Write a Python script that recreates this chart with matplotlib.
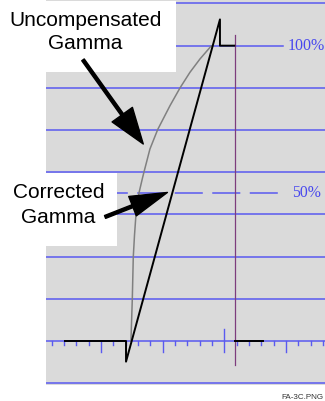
import numpy as np
import matplotlib.pyplot as plt
from matplotlib.patches import Rectangle

plt.rcParams['lines.scale_dashes'] = False

# x: graticule divisions (0 = centre mark), y: percent of white level
grid_levels = [-14.3, 0.0, 14.3, 28.6, 42.9, 57.1, 71.4, 85.7, 114.3]
full_level = 100.0
half_level = 50.0

div_ticks = [-14, -13, -12, -11, -10, -9, -8, -7, -6, -5, -4, -3, -2, -1,
             0, 1, 2, 3, 4, 5, 6, 7, 8]
long_ticks = [-10, -5, 5]
centre_tick = 0

# corrected gamma (black trace)
corrected_x = [-12.92, -7.97, -7.97, -0.35, -0.35, 0.81]
corrected_y = [0.0, 0.0, -7.0, 108.9, 100.0, 100.0]
after_x = [0.83, 3.11]
after_y = [0.0, 0.0]
edge_x = 0.83
edge_y = [103.6, -8.1]

# uncompensated gamma (grey trace)
uncomp_x = [-7.57, -7.46, -7.38, -7.28, -7.16, -6.92, -6.65, -6.52, -6.03,
            -5.40, -4.40, -3.59, -2.78, -1.97, -1.08, -0.92]
uncomp_y = [0.0, 14.2, 28.5, 35.9, 43.0, 50.1, 54.9, 57.1, 65.0,
            71.6, 79.7, 85.7, 91.0, 95.5, 99.8, 100.0]

BLUE = '#5a5af0'
GREY_BG = '#dadada'

fig = plt.figure(figsize=(3.25, 4.02), dpi=100)
ax = fig.add_axes([46 / 325, 16 / 402, 1 - 46 / 325, 1 - 16 / 402])
ax.set_facecolor(GREY_BG)
ax.set_xlim(-14.46, 8.17)
ax.set_ylim(-14.9, 115.8)
ax.set_xticks([])
ax.set_yticks([])
for s in ax.spines.values():
    s.set_visible(False)

# graticule
for lv in grid_levels:
    ax.axhline(lv, color=BLUE, lw=1.1, zorder=1)
ax.plot([-14.46, 4.76], [full_level, full_level], color=BLUE, lw=1.1, zorder=1)
ax.plot([-14.46, 4.38], [half_level, half_level], color=BLUE, lw=1.1,
        linestyle=(15.3, (20.2, 6.8)), dash_capstyle='butt', zorder=1)
for t in div_ticks:
    if t == centre_tick:
        ax.plot([t, t], [4.1, -3.7], color=BLUE, lw=1.0, zorder=1)
    elif t in long_ticks:
        ax.plot([t, t], [0, -3.7], color=BLUE, lw=1.0, zorder=1)
    else:
        ax.plot([t, t], [0, -1.5], color=BLUE, lw=1.0, zorder=1)

ax.text(5.14, 100.3, '100%', color='#4848ee', fontsize=11.5,
        family='Liberation Serif', ha='left', va='center')
ax.text(5.47, 50.3, '50%', color='#4848ee', fontsize=11.3,
        family='Liberation Serif', ha='left', va='center')

# traces
ax.plot(uncomp_x, uncomp_y, color='#808080', lw=1.1, zorder=2)
ax.plot([edge_x, edge_x], edge_y, color='#7d3d7d', lw=0.9, zorder=2)
ax.plot(corrected_x, corrected_y, color='black', lw=1.4, zorder=3)
ax.plot(after_x, after_y, color='black', lw=1.4, zorder=3)

# label boxes
ax.add_patch(Rectangle((-14.46, 91.1), 10.54, 24.0, facecolor='white',
                       edgecolor='none', zorder=5))
ax.add_patch(Rectangle((-14.46, 32.3), 5.73, 24.6, facecolor='white',
                       edgecolor='none', zorder=5))

lab = dict(fontsize=15, family='Liberation Sans', ha='center', va='baseline',
           zorder=7, clip_on=False)
ax.text(-11.27, 107.0, 'Uncompensated', **lab)
ax.text(-11.27, 99.05, 'Gamma', **lab)
ax.text(-13.46, 48.9, 'Corrected', **lab)
ax.text(-13.46, 40.2, 'Gamma', **lab)

ax.annotate('', xy=(-6.57, 66.7), xytext=(-11.46, 95.2),
            arrowprops=dict(facecolor='black', edgecolor='black', width=2.2,
                            headwidth=18, headlength=26, shrink=0),
            zorder=6)
ax.annotate('', xy=(-4.61, 50.3), xytext=(-9.67, 42.0),
            arrowprops=dict(facecolor='black', edgecolor='black', width=2.2,
                            headwidth=15, headlength=27, shrink=0),
            zorder=6)

ax.text(8.04, -18.9, 'FA-3C.PNG', fontsize=5.8, family='Liberation Sans',
        color='#333333', ha='right', va='center', clip_on=False)

fig.savefig('out.png', dpi=100)
